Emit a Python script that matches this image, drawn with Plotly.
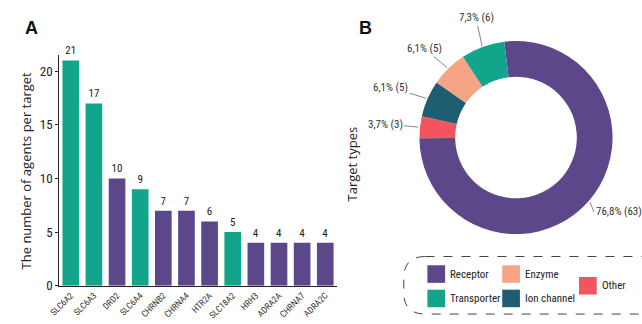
import math
import plotly.graph_objects as go

W, H = 642, 324

# ---- data ----
targets = ["SLC6A2", "SLC6A3", "DRD2", "SLC6A4", "CHRNB2", "CHRNA4",
           "HTR2A", "SLC18A2", "HRH3", "ADRA2A", "CHRNA7", "ADRA2C"]
agents = [21, 17, 10, 9, 7, 7, 6, 5, 4, 4, 4, 4]
target_class = ["Transporter", "Transporter", "Receptor", "Transporter", "Receptor", "Receptor",
                "Receptor", "Transporter", "Receptor", "Receptor", "Receptor", "Receptor"]

type_labels = ["Receptor", "Other", "Ion channel", "Enzyme", "Transporter"]
type_counts = [63, 3, 5, 5, 6]

y_ticks = [0, 5, 10, 15, 20]

legend_order = ["Receptor", "Enzyme", "Transporter", "Ion channel", "Other"]

COLORS = {"Receptor": "#5b4789", "Transporter": "#13a58b", "Enzyme": "#f7a486",
          "Ion channel": "#1f5d72", "Other": "#f25560"}

FONT_N = "Liberation Sans Narrow, Roboto Condensed, Arial Narrow, sans-serif"
FONT = "Open Sans, Liberation Sans, sans-serif"


def px(x):
    return x / W


def py(y):
    return 1 - y / H


fig = go.Figure()

fig.add_trace(go.Bar(
    x=targets, y=agents,
    marker=dict(color=[COLORS[c] for c in target_class], line=dict(width=0)),
    width=0.72,
    text=[str(v) for v in agents], textposition="outside",
    textfont=dict(family=FONT_N, size=11, color="#222"),
    cliponaxis=False, showlegend=False, hoverinfo="x+y",
))

# pie geometry (pixels)
cx, cy, R = 514, 141, 99
rotation = -7
fig.add_trace(go.Pie(
    labels=type_labels, values=type_counts, sort=False, direction="clockwise",
    rotation=rotation, hole=0.63, textinfo="none", showlegend=False,
    marker=dict(colors=[COLORS[l] for l in type_labels], line=dict(width=0)),
    domain=dict(x=[px(cx - R), px(cx + R)], y=[py(cy + R), py(cy - R)]),
))

annotations = []
shapes = []

# pie labels with leader lines
offsets = {"Receptor": (4, 10, "left"), "Other": (-33, -3, "center"),
           "Ion channel": (-35, -11, "center"), "Enzyme": (-23, -19, "center"),
           "Transporter": (-6, -28, "center")}
total = sum(type_counts)
cum = 0
for lab, v in zip(type_labels, type_counts):
    mid = math.radians(rotation + 360 * (cum + v / 2) / total)
    cum += v
    tx = cx + (R + 1) * math.sin(mid)
    ty = cy - (R + 1) * math.cos(mid)
    txt = f"{100 * v / total:.1f}".replace(".", ",") + f"% ({v})"
    ax, ay, xa = offsets[lab]
    annotations.append(dict(
        x=px(tx), y=py(ty), xref="paper", yref="paper", text=txt,
        showarrow=True, arrowhead=0, arrowwidth=0.8, arrowcolor="#666",
        ax=ax, ay=ay, xanchor=xa, yanchor="middle", standoff=0,
        font=dict(family=FONT_N, size=11, color="#333"),
    ))

# panel letters and titles
annotations += [
    dict(x=px(22), y=py(29), xref="paper", yref="paper", text="<b>A</b>", showarrow=False,
         xanchor="center", yanchor="middle",
         font=dict(family="Liberation Sans, Arial, sans-serif", size=18, color="#111")),
    dict(x=px(361), y=py(29), xref="paper", yref="paper", text="<b>B</b>", showarrow=False,
         xanchor="center", yanchor="middle",
         font=dict(family="Liberation Sans, Arial, sans-serif", size=18, color="#111")),
    dict(x=px(16), y=py(175), xref="paper", yref="paper", text="The number of agents per target",
         textangle=-90, showarrow=False, xanchor="center", yanchor="middle",
         font=dict(family=FONT, size=13, color="#222")),
    dict(x=px(347), y=py(168), xref="paper", yref="paper", text="Target types",
         textangle=-90, showarrow=False, xanchor="center", yanchor="middle",
         font=dict(family=FONT, size=13, color="#222")),
]

# legend box (dashed rounded)
x0, y0, x1, y1, r = 400, 263, 665, 322, 22
path = (f"M {px(x0 + r)},{py(y0)} L {px(x1 - r)},{py(y0)} Q {px(x1)},{py(y0)} {px(x1)},{py(y0 + r)} "
        f"L {px(x1)},{py(y1 - r)} Q {px(x1)},{py(y1)} {px(x1 - r)},{py(y1)} "
        f"L {px(x0 + r)},{py(y1)} Q {px(x0)},{py(y1)} {px(x0)},{py(y1 - r)} "
        f"L {px(x0)},{py(y0 + r)} Q {px(x0)},{py(y0)} {px(x0 + r)},{py(y0)} Z")
shapes.append(dict(type="path", path=path, xref="paper", yref="paper",
                   line=dict(color="#444", width=1, dash="dash")))

legend_pos = {"Receptor": (424, 272), "Enzyme": (500, 272), "Transporter": (424, 297),
              "Ion channel": (500, 297), "Other": (578, 284)}
for lab in legend_order:
    lx, ly = legend_pos[lab]
    shapes.append(dict(type="rect", xref="paper", yref="paper",
                       x0=px(lx), x1=px(lx + 18), y0=py(ly + 18), y1=py(ly),
                       fillcolor=COLORS[lab], line=dict(width=0)))
    annotations.append(dict(x=px(lx + 21), y=py(ly + 9), xref="paper", yref="paper", text=lab,
                            xanchor="left", yanchor="middle", showarrow=False,
                            font=dict(family=FONT_N, size=11, color="#222")))

fig.update_layout(
    width=W, height=H, margin=dict(l=0, r=0, t=0, b=0),
    paper_bgcolor="white", plot_bgcolor="white",
    bargap=0.28, annotations=annotations, shapes=shapes,
    xaxis=dict(domain=[px(50), px(332)], range=[-0.5, 11.5], tickangle=-45,
               showline=True, linecolor="#222", linewidth=1, ticks="",
               tickfont=dict(family=FONT_N, size=9, color="#333"),
               showgrid=False, zeroline=False),
    yaxis=dict(domain=[py(293), py(56.5)], range=[0, 21.5], tickvals=y_ticks,
               showline=True, linecolor="#222", linewidth=1, ticks="outside", ticklen=3,
               tickcolor="#222", tickfont=dict(family=FONT_N, size=13, color="#222"),
               showgrid=False, zeroline=False),
)

fig.write_html("out.html")
